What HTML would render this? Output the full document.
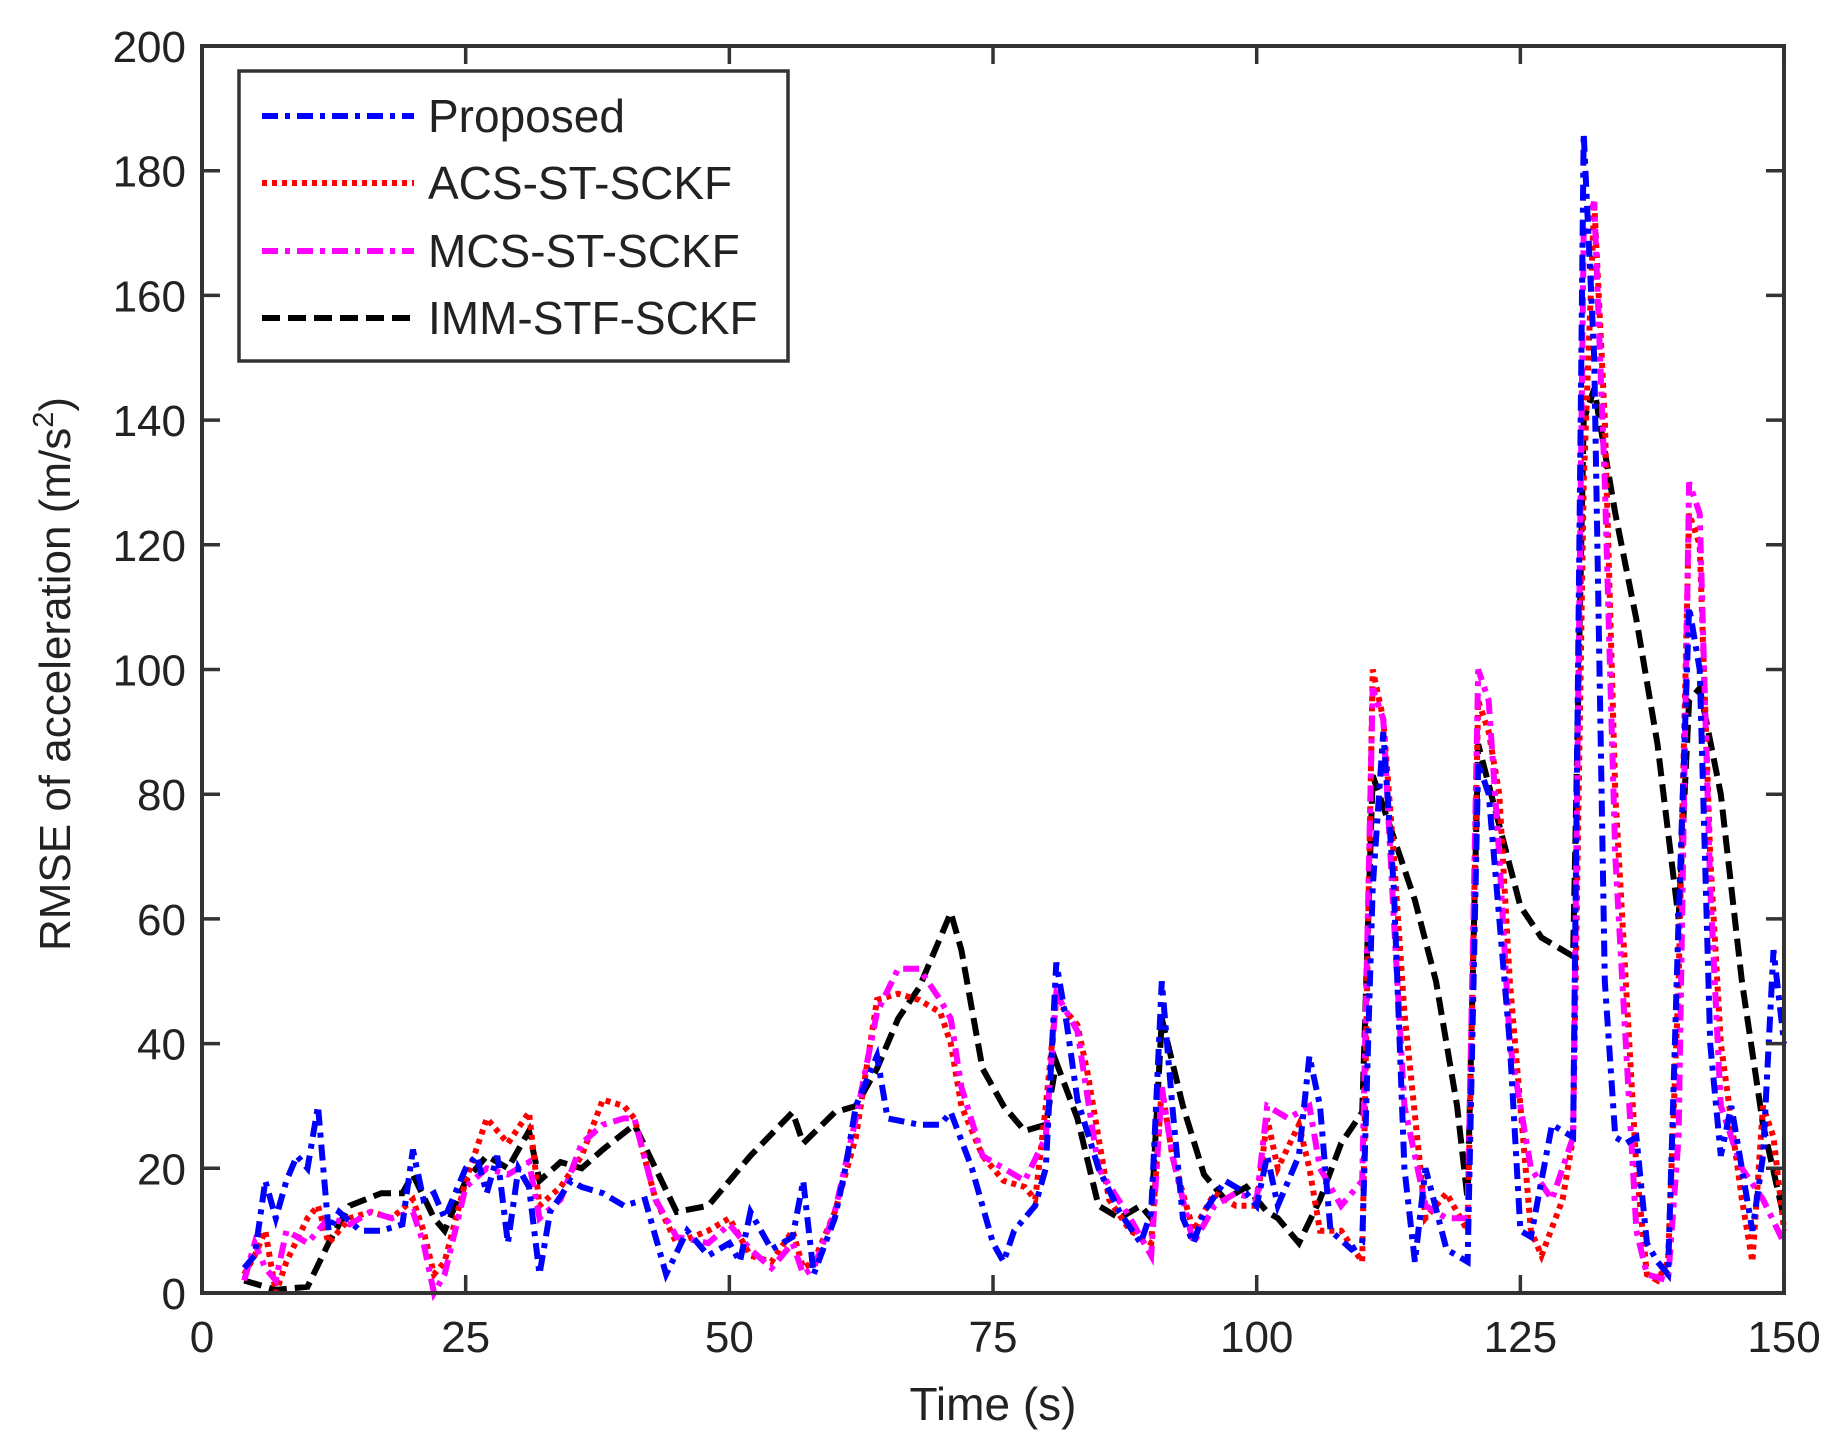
<!DOCTYPE html>
<html><head><meta charset="utf-8"><style>
html,body{margin:0;padding:0;background:#fff;}
svg text{font-family:"Liberation Sans",Arial,sans-serif;fill:#222;}
</style></head><body>
<svg id="s" width="1844" height="1449" xmlns="http://www.w3.org/2000/svg">
<rect width="1844" height="1449" fill="#fff"/>
<g id="plot"></g>
<g id="axes"></g>
<rect x="239" y="71" width="549" height="290" fill="#fff" stroke="#333" stroke-width="3.5"/>
<line x1="262" y1="116" x2="414" y2="116" stroke="#0000ff" stroke-width="6" stroke-dasharray="16,7,5,7"/>
<line x1="262" y1="183" x2="414" y2="183" stroke="#ff0000" stroke-width="6" stroke-dasharray="5,5"/>
<line x1="262" y1="251" x2="414" y2="251" stroke="#ff00ff" stroke-width="6" stroke-dasharray="16,7,5,7"/>
<line x1="262" y1="318" x2="414" y2="318" stroke="#000" stroke-width="6" stroke-dasharray="18,8"/>
<text x="428" y="132" font-size="46">Proposed</text>
<text x="428" y="199" font-size="46">ACS-ST-SCKF</text>
<text x="428" y="267" font-size="46">MCS-ST-SCKF</text>
<text x="428" y="334" font-size="46">IMM-STF-SCKF</text>
<text x="993" y="1420" font-size="46" text-anchor="middle">Time (s)</text>
<text transform="translate(70,674) rotate(-90)" font-size="44" text-anchor="middle">RMSE of acceleration (m/s<tspan font-size="29" dy="-17">2</tspan><tspan dy="17">)</tspan></text>
</svg>
<script>
var X=function(t){return 202+t*10.547},Y=function(v){return 1293-v*6.235};
function P(str){var a=str.trim().split(/\s+/).map(function(p){var q=p.split(':');return X(+q[0]).toFixed(1)+','+Y(+q[1]).toFixed(1)});return 'M'+a.join(' L');}
var black="4:2 7:0.5 10:1 12:8 14:14 17:16 19:16 20:19 22:12 23:10 25:18 27:22 29:20 31:26 32:18 34:21 36:20 38:23 41:27 43:20 45:13 48:14 50:18 52:22 56:29 57:24 60:29 62:30 64:36 66:44 68:49 70:57 71:61 72:55 74:36 76:30 78:26 80:27 81:37 83:28 85:14 87:12 89:14 90:12 91:44 93:30 95:19 97:15 99:17 101:13 102:12 104:8 106:15 108:24 110:29 111:83 113:73 115:63 117:50 119:30 120:15 121:88 123:75 125:62 127:57 130:54 131:140 132:145 134:125 136:108 138:88 139:74 140:60 141:95 142:97 144:80 146:50 148:27 150:12";
var blue="4:4 5:6 6:18 7:12 8:18 9:22 10:20 11:30 12:10 13:13 15:10 17:10 19:11 20:23 21:15 22:16 23:12 25:20 26:22 27:16 28:22 29:8 30:20 31:17 32:3 33:13 35:18 36:17 38:16 40:14 42:15 44:3 46:10 48:6 50:8 51:5 52:13 54:7 56:9 57:18 58:3 60:12 61:20 62:30 64:38 65:28 68:27 70:27 71:29 73:20 75:8 76:5 77:10 79:14 80:20 81:53 82:43 83:31 85:20 87:13 89:8 90:13 91:50 92:30 93:12 94:8 95:13 97:18 99:16 100:14 101:22 102:14 104:22 105:38 106:30 107:10 109:7 110:8 111:65 112:90 113:65 114:20 115:5 116:20 118:7 120:5 121:85 122:80 123:60 124:40 125:10 126:9 128:27 130:25 131:186 132:150 133:50 134:25 135:24 136:25 137:8 138:5 139:3 140:60 141:110 142:100 143:40 144:22 145:30 147:10 148:22 149:55 150:40";
var red="4:3 5:6 6:10 7:0 8:5 10:12 11:14 12:8 14:12 16:13 18:12 20:15 21:10 22:3 23:5 25:18 27:28 29:24 31:29 32:14 34:17 36:22 38:31 40:30 41:28 43:15 45:8 48:10 50:12 52:6 54:5 56:10 57:4 58:5 60:13 62:25 64:47 66:48 68:47 70:45 71:40 72:30 74:22 76:18 78:17 79:15 80:30 81:47 83:43 84:35 86:15 88:10 90:8 91:33 92:22 94:10 96:16 98:14 100:14 101:28 102:20 104:27 105:20 106:10 108:10 110:5 111:100 112:92 113:70 114:45 116:12 118:16 120:10 121:95 122:90 123:80 124:50 125:30 126:10 127:6 129:15 130:25 131:130 132:175 133:140 134:80 135:50 136:20 137:3 138:2 139:5 140:50 141:125 142:120 143:70 144:40 146:15 147:5 148:30 149:25 150:10";
var mag="4:2 5:8 6:4 7:2 8:10 10:8 12:12 14:11 16:13 18:12 20:13 21:8 22:0 23:3 25:17 27:20 29:19 31:21 32:12 34:15 36:24 38:27 40:28 41:28 43:15 45:9 48:8 50:11 52:7 54:4 56:8 57:3 58:4 60:13 62:28 64:45 66:52 68:52 70:47 71:44 72:33 74:22 76:20 78:18 80:25 81:48 83:42 85:20 88:12 90:6 91:33 92:22 94:8 96:14 98:16 100:15 101:30 103:28 105:30 106:20 108:14 110:18 111:97 112:92 113:60 114:30 116:14 118:12 120:12 121:100 122:95 123:70 124:40 126:20 128:15 130:25 131:170 132:175 133:130 134:70 135:40 136:10 137:3 139:2 140:25 141:130 142:125 143:65 144:30 146:20 148:15 150:8";
var ns="http://www.w3.org/2000/svg",g=document.getElementById('plot');
[[black,'#000','18,8'],[red,'#ff0000','5,5'],[mag,'#ff00ff','16,7,5,7'],[blue,'#0000ff','16,7,5,7']].forEach(function(s){var p=document.createElementNS(ns,'path');p.setAttribute('d',P(s[0]));p.setAttribute('fill','none');p.setAttribute('stroke',s[1]);p.setAttribute('stroke-width','6');p.setAttribute('stroke-dasharray',s[2]);g.appendChild(p);});
var ax=document.getElementById('axes'),h='<rect x="202" y="46" width="1582" height="1247" fill="none" stroke="#333" stroke-width="4"/>';
for(var t=0;t<=150;t+=25){var x=X(t);h+='<line x1="'+x+'" y1="1293" x2="'+x+'" y2="1275" stroke="#333" stroke-width="3.5"/><line x1="'+x+'" y1="46" x2="'+x+'" y2="64" stroke="#333" stroke-width="3.5"/><text x="'+x+'" y="1352" font-size="44" text-anchor="middle">'+t+'</text>';}
for(var v=0;v<=200;v+=20){var y=Y(v);h+='<line x1="202" y1="'+y+'" x2="220" y2="'+y+'" stroke="#333" stroke-width="3.5"/><line x1="1784" y1="'+y+'" x2="1766" y2="'+y+'" stroke="#333" stroke-width="3.5"/><text x="186" y="'+(y+16)+'" font-size="44" text-anchor="end">'+v+'</text>';}
ax.innerHTML=h;
</script>
</body></html>
